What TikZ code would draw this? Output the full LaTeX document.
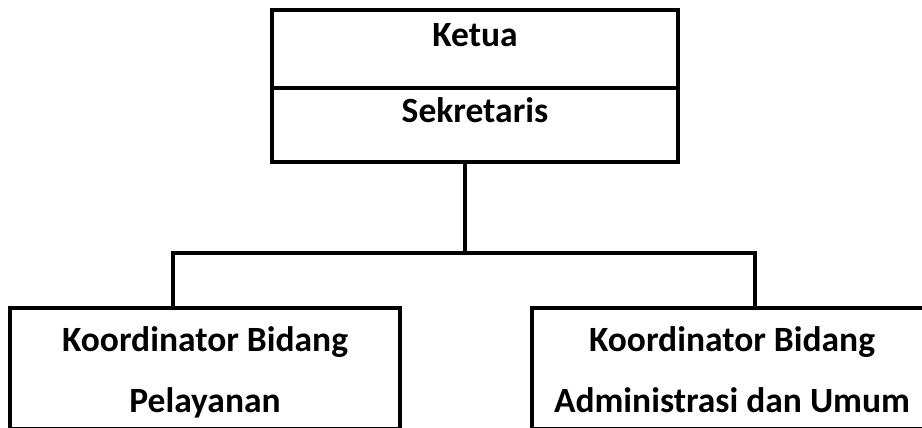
\documentclass[tikz,border=0pt]{standalone}
\usepackage{fontspec}
\setmainfont{Carlito}
\begin{document}
\begin{tikzpicture}[x=1pt, y=-1pt,
    unit/.style={draw, line width=4pt, inner sep=0pt, font=\bfseries\fontsize{35.5}{61}\selectfont},
    toprow/.style={unit, minimum width=406pt, text height=22pt, text depth=27pt},
    bidang/.style={unit, align=center, minimum height=121pt, text height=87pt, text depth=0pt},
    link/.style={line width=4pt}]
    \useasboundingbox (0,0) rectangle (922,428);

    \node[toprow, minimum height=78pt] (ketua) at (475,49) {Ketua};
    \node[toprow, minimum height=74pt] (sekretaris) at (475,125) {Sekretaris};

    \node[bidang, minimum width=390pt] (pelayanan) at (205,368.5) {Koordinator Bidang\\Pelayanan};
    \node[bidang, minimum width=400pt] (umum) at (732,368.5) {Koordinator Bidang\\Administrasi dan Umum};

    \coordinate (joint) at (465,253);
    \coordinate (jl) at (173,253);
    \coordinate (jr) at (755,253);

    \draw[link] (sekretaris.south -| joint) -- (joint);
    \draw[link] (pelayanan.north -| jl) -- (jl) -- (jr) -- (umum.north -| jr);
\end{tikzpicture}
\end{document}
